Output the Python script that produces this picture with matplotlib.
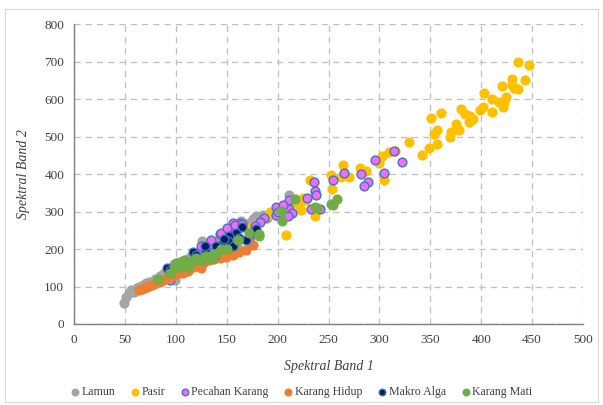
import matplotlib
matplotlib.use("Agg")
import matplotlib.pyplot as plt
from matplotlib.patches import Rectangle

plt.rcParams['font.family'] = ['Liberation Serif', 'DejaVu Serif']

# data (Spektral Band 1, Spektral Band 2)
lamun_x = [49, 51, 54, 56, 59, 62, 64, 68, 71, 74, 77, 80, 84, 87, 90, 94, 98, 99, 103, 107,
           110, 114, 118, 122, 126, 128, 132, 136, 140, 145, 150, 155, 160, 162, 164, 168, 172,
           176, 179, 182, 186, 190, 195, 200, 205, 211, 214]
lamun_y = [55, 73, 82, 92, 86, 95, 100, 104, 109, 112, 113, 120, 127, 133, 140, 150, 160, 118, 165, 168,
           172, 178, 183, 190, 221, 212, 205, 215, 222, 230, 235, 240, 250, 199, 275, 262, 270,
           280, 288, 276, 290, 283, 300, 287, 310, 345, 330]

pasir_x = [436, 447, 430, 443, 430, 436, 420, 432, 403, 424, 411, 417, 422, 421, 411, 402, 399,
           380, 384, 389, 392, 388, 361, 351, 375, 378, 370, 369, 357, 354, 357, 349, 342, 329,
           315, 309, 303, 300, 305, 264, 281, 287, 262, 270, 252, 253, 232, 225, 223, 237, 208,
           228, 221, 193, 174, 192, 172, 143, 176, 216, 212]
pasir_y = [698, 692, 654, 652, 637, 628, 634, 630, 616, 606, 600, 593, 593, 578, 566, 579, 571,
           573, 559, 556, 547, 540, 563, 550, 534, 517, 512, 499, 518, 506, 480, 469, 452, 486,
           462, 458, 447, 429, 384, 424, 416, 409, 393, 393, 398, 360, 383, 336, 304, 287, 238,
           332, 318, 299, 256, 292, 252, 181, 261, 330, 320]

pecahan_x = [314, 322, 296, 305, 282, 289, 285, 265, 254, 236, 237, 238, 229, 233, 242, 187, 183,
             198, 198, 211, 211, 214, 210, 164, 143, 156, 172, 144, 163, 172, 125, 135, 153, 94,
             135, 150, 158, 165, 178, 200, 205]
pecahan_y = [462, 432, 438, 402, 400, 380, 369, 402, 383, 380, 355, 344, 335, 306, 306, 283, 272,
             312, 292, 332, 307, 296, 289, 262, 239, 270, 230, 243, 270, 225, 208, 214, 248, 118,
             225, 255, 265, 268, 262, 300, 318]

hidup_x = [64, 67, 69, 72, 74, 77, 79, 82, 84, 87, 90, 93, 97, 100, 104, 107, 112, 117, 120, 123,
           128, 133, 138, 143, 149, 156, 162, 169, 176, 95, 110, 125]
hidup_y = [90, 93, 95, 99, 101, 105, 108, 111, 113, 117, 122, 127, 131, 133, 136, 136, 142, 152, 155, 158,
           165, 171, 174, 176, 180, 185, 192, 198, 212, 125, 145, 150]

makro_x = [91, 94, 117, 130, 138, 151, 156, 165, 174, 179, 159, 152, 151, 144, 156, 169, 129, 139,
           120, 147, 162]
makro_y = [149, 143, 191, 191, 181, 208, 216, 260, 243, 254, 243, 236, 221, 212, 207, 225, 207, 207,
           185, 228, 230]

mati_x = [83, 94, 100, 105, 108, 120, 123, 130, 136, 144, 161, 172, 182, 112, 136, 182, 204, 217,
          203, 239, 254, 258, 161, 237, 252, 115, 126, 140, 150, 98, 103]
mati_y = [119, 136, 163, 152, 172, 176, 170, 181, 185, 199, 223, 243, 241, 152, 174, 236, 274, 333,
          301, 309, 318, 334, 223, 312, 320, 165, 172, 190, 200, 150, 160]

series = [
    ("Lamun", lamun_x, lamun_y, "#A5A5A5", "#A5A5A5"),
    ("Pasir", pasir_x, pasir_y, "#FFC000", "#FFC000"),
    ("Pecahan Karang", pecahan_x, pecahan_y, "#F06EF5", "#4472C4"),
    ("Karang Hidup", hidup_x, hidup_y, "#ED7D31", "#ED7D31"),
    ("Makro Alga", makro_x, makro_y, "#002060", "#4472C4"),
    ("Karang Mati", mati_x, mati_y, "#70AD47", "#70AD47"),
]

fig = plt.figure(figsize=(6.03, 4.05), dpi=100)
ax = fig.add_axes([74 / 603, 81 / 405, 509 / 603, 300 / 405])

for name, xs, ys, fc, ec in series:
    ax.scatter(xs, ys, s=40, c=fc, edgecolors=ec, linewidths=1.0, label=name, zorder=3)

ax.set_xlim(0, 500)
ax.set_ylim(0, 800)
ax.set_xticks(range(0, 501, 50))
ax.set_yticks(range(0, 801, 100))
ax.grid(True, color="#BFBFBF", linestyle=(0, (5, 4)), linewidth=0.9, zorder=0)
ax.set_axisbelow(True)
for side in ["top", "right"]:
    ax.spines[side].set_visible(False)
for side in ["left", "bottom"]:
    ax.spines[side].set_color("#7F7F7F")
    ax.spines[side].set_linewidth(1.0)
ax.tick_params(length=0, labelsize=9.5, labelcolor="#404040", pad=7)

ax.set_xlabel("Spektral Band 1", style="italic", fontsize=10, color="#404040", labelpad=10)
ax.set_ylabel("Spektral Band 2", style="italic", fontsize=10, color="#404040", labelpad=10)

leg = fig.legend(loc="center", bbox_to_anchor=(0.5, 13 / 405), ncol=6, frameon=False,
                 fontsize=8.6, handlelength=0.7, handletextpad=0.2, columnspacing=1.3,
                 markerscale=0.75)
for t in leg.get_texts():
    t.set_color("#404040")

# light chart-area border
fig.patches.append(Rectangle((5 / 603, 3 / 405), 593 / 603, 393 / 405, transform=fig.transFigure,
                             fill=False, edgecolor="#D9D9D9", linewidth=0.8))

fig.savefig("out.png", dpi=100)
